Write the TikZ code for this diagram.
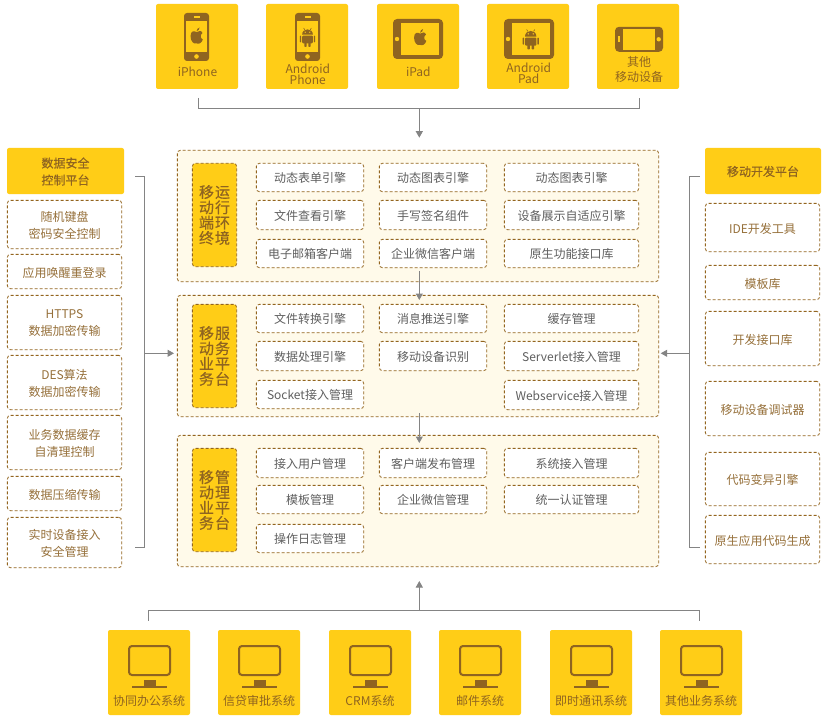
\documentclass[tikz,border=0pt]{standalone}
\usepackage{fontspec}
\setmainfont{Noto Sans CJK SC}
\newfontfamily\medfont[FakeBold=0.35]{Noto Sans CJK SC}
\usetikzlibrary{arrows.meta}
\definecolor{gold}{HTML}{FFCD17}
\definecolor{brownc}{HTML}{8F6420}
\definecolor{dashc}{HTML}{93651F}
\definecolor{panelc}{HTML}{FFFAEA}
\definecolor{linec}{HTML}{848484}
\definecolor{txtgray}{HTML}{5F5F5F}
\definecolor{txtbrown}{HTML}{96703A}
\tikzset{
 x=1pt,y=-1pt,
 fillbox/.style={fill=gold,rounded corners=2pt,draw=none},
 dbox/.style={draw=dashc,densely dashed,line width=.8pt,rounded corners=3pt,fill=white},
 panelbox/.style={draw=dashc,densely dashed,line width=.8pt,rounded corners=3pt,fill=panelc},
 sidebox/.style={draw=dashc,densely dashed,line width=.8pt,rounded corners=3pt,fill=gold},
 conn/.style={draw=linec,line width=1pt},
 arr/.style={conn,-{Triangle[length=6.5pt,width=7pt,fill=linec]}},
 lab/.style={font=\fontsize{12}{13}\selectfont,text=brownc,align=center,inner sep=0pt},
 ilab/.style={font=\fontsize{12}{14}\selectfont,text=txtgray,align=center,inner sep=0pt,yshift=-.7pt},
 slab/.style={font=\fontsize{12}{17}\selectfont,text=txtbrown,align=center,inner sep=0pt,yshift=-1pt},
 hlab/.style={font=\medfont\fontsize{12}{17}\selectfont,text=brownc,align=center,inner sep=0pt,yshift=-.5pt},
 vlab/.style={font=\medfont\fontsize{15}{15.3}\selectfont,text=brownc,align=center,inner sep=0pt},
}
% filled box: name, x0, y0, x1, y1, style, label style, text
\newcommand{\bx}[8]{\node[#6,outer sep=0pt,minimum width=#4pt-#2pt,minimum height=#5pt-#3pt,anchor=center,inner sep=0pt] (#1) at ({(#2+#4)/2},{(#3+#5)/2}) {};
 \node[#7] at (#1.center) {#8};}
% dashed box: stroke kept inside the given extent
\newcommand{\dx}[8]{\node[#6,outer sep=0pt,minimum width=#4pt-#2pt-.7pt,minimum height=#5pt-#3pt-.7pt,anchor=center,inner sep=0pt] (#1) at ({(#2+#4)/2},{(#3+#5)/2}) {};
 \node[#7] at (#1.center) {#8};}
% icons, centred at (#1,#2)
\newcommand{\appleic}[3]{\begin{scope}[shift={(#1,#2)},scale=#3]
 \fill[brownc] (0,-4.6) .. controls (2,-6.6) and (6.5,-6.6) .. (7,-3.4) .. controls (4,-1.5) and (4.5,3) .. (7.4,4) .. controls (6,8) and (3.5,10) .. (0,8.7) .. controls (-3.5,10) and (-7,6) .. (-7,0) .. controls (-7,-6) and (-2.5,-6.5) .. (0,-4.6) -- cycle;
 \fill[brownc] (0,-5.6) .. controls (0,-8) and (2,-9.5) .. (3.6,-10) .. controls (3.8,-8) and (2,-6) .. (0,-5.6) -- cycle;
\end{scope}}
\newcommand{\droidic}[3]{\begin{scope}[shift={(#1,#2)},scale=#3]
 \fill[brownc] (-6,-2.5) .. controls (-6,-6.5) and (-3,-8.5) .. (0,-8.5) .. controls (3,-8.5) and (6,-6.5) .. (6,-2.5) -- cycle;
 \draw[brownc,line width=.6pt] (-3,-8) -- (-4.3,-10) (3,-8) -- (4.3,-10);
 \fill[gold] (-2.6,-5.4) circle (.8) (2.6,-5.4) circle (.8);
 \fill[brownc,rounded corners=1pt] (-6,-1.5) rectangle (6,7);
 \fill[brownc,rounded corners=.7pt] (-8.6,-1.5) rectangle (-7,6) (7,-1.5) rectangle (8.6,6);
 \fill[brownc,rounded corners=.7pt] (-3.6,6) rectangle (-1,11) (1,6) rectangle (3.6,11);
\end{scope}}
\newcommand{\phoneic}[2]{\begin{scope}[shift={(#1,#2)}]
 \fill[brownc,rounded corners=3pt] (-12.5,-24) rectangle (12.5,24);
 \fill[gold] (-10.5,-16) rectangle (10.5,15);
 \fill[gold] (-3,-20.5) rectangle (3,-19.2);
 \fill[gold] (0,19.5) circle (2.3);
\end{scope}}
\newcommand{\tabletic}[2]{\begin{scope}[shift={(#1,#2)}]
 \fill[brownc,rounded corners=4pt] (-25,-20) rectangle (25,20);
 \fill[gold] (-17,-16) rectangle (20.5,16);
 \fill[gold] (-21,0) circle (2.2);
\end{scope}}
\newcommand{\monic}[2]{\begin{scope}[shift={(#1,#2)}]
 \draw[brownc,line width=2pt,rounded corners=3pt] (-20.5,-22) rectangle (20.5,7);
 \fill[brownc] (-6,11.5) rectangle (6,18);
 \fill[brownc] (-17.5,18) rectangle (17.5,20);
\end{scope}}
\begin{document}
\begin{tikzpicture}
\useasboundingbox (0,0) rectangle (826,722);
\fill[white] (0,0) rectangle (826,722);
% top devices
\bx{t1}{156}{4}{238}{89}{fillbox}{lab}{}
\bx{t2}{266}{4}{348}{89}{fillbox}{lab}{}
\bx{t3}{377}{4}{459}{89}{fillbox}{lab}{}
\bx{t4}{487}{4}{569}{89}{fillbox}{lab}{}
\bx{t5}{597}{4}{679}{89}{fillbox}{lab}{}
\phoneic{196.5}{37}\appleic{196.5}{36}{.85}
\phoneic{307.5}{37}\droidic{307.5}{37}{.9}
\tabletic{418}{39}\appleic{420}{37.5}{.85}
\tabletic{529}{39}\droidic{530.7}{39}{.95}
\begin{scope}[shift={(639,39.3)}]
 \fill[brownc,rounded corners=4pt] (-24,-12.5) rectangle (24,12.5);
 \fill[gold] (-16.3,-10.3) rectangle (15.7,10.7);
 \fill[gold] (19.7,0) circle (2.2);
 \fill[gold] (-21,-3.3) rectangle (-19.5,3);
\end{scope}
\node[lab] at (197.5,71.7) {iPhone};
\node[lab,font=\fontsize{12}{10.8}\selectfont] at (307.8,74) {Android\\Phone};
\node[lab] at (418.3,71.7) {iPad};
\node[lab,font=\fontsize{12}{11.4}\selectfont] at (528.7,73.5) {Android\\Pad};
\node[lab,font=\fontsize{12}{14.5}\selectfont] at (639,69.5) {其他\\移动设备};
% top connector
\coordinate (ttl) at (198.3,98); \coordinate (ttr) at (639.3,98);
\coordinate (tj) at (419.3,108.3); \coordinate (ta) at (419.3,137.7);
\draw[conn] (ttl) |- (tj) -| (ttr);
\draw[arr] (tj) -- (ta);
% panels
\dx{p1}{177}{150}{659}{282}{panelbox}{ilab}{}
\dx{p2}{177}{295}{659}{417}{panelbox}{ilab}{}
\dx{p3}{177}{435}{659}{567}{panelbox}{ilab}{}
\dx{v1}{192}{163}{237}{267}{sidebox}{vlab}{移\hspace{1pt}运\\动\hspace{1pt}行\\端\hspace{1pt}环\\终\hspace{1pt}境}
\dx{v2}{192}{304}{237}{408}{sidebox}{vlab}{移\hspace{1pt}服\\动\hspace{1pt}务\\业\hspace{1pt}平\\务\hspace{1pt}台}
\dx{v3}{192}{448}{237}{552}{sidebox}{vlab}{移\hspace{1pt}管\\动\hspace{1pt}理\\业\hspace{1pt}平\\务\hspace{1pt}台}
% panel 1
\dx{a1}{256}{163}{364}{192}{dbox}{ilab}{动态表单引擎}
\dx{a2}{379}{163}{487}{192}{dbox}{ilab}{动态图表引擎}
\dx{a3}{504}{163}{639}{192}{dbox}{ilab}{动态图表引擎}
\dx{a4}{256}{200}{364}{230}{dbox}{ilab}{文件查看引擎}
\dx{a5}{379}{200}{487}{230}{dbox}{ilab}{手写签名组件}
\dx{a6}{504}{200}{639}{230}{dbox}{ilab}{设备展示自适应引擎}
\dx{a7}{256}{239}{364}{268}{dbox}{ilab}{电子邮箱客户端}
\dx{a8}{379}{239}{487}{268}{dbox}{ilab}{企业微信客户端}
\dx{a9}{504}{239}{639}{268}{dbox}{ilab}{原生功能接口库}
% panel 2
\dx{b1}{256}{304}{364}{333}{dbox}{ilab}{文件转换引擎}
\dx{b2}{379}{304}{487}{333}{dbox}{ilab}{消息推送引擎}
\dx{b3}{504}{304}{639}{333}{dbox}{ilab}{缓存管理}
\dx{b4}{256}{341}{364}{371}{dbox}{ilab}{数据处理引擎}
\dx{b5}{379}{341}{487}{371}{dbox}{ilab}{移动设备识别}
\dx{b6}{504}{341}{639}{371}{dbox}{ilab}{Serverlet接入管理}
\dx{b7}{256}{380}{364}{409}{dbox}{ilab}{Socket接入管理}
\dx{b8}{504}{380}{639}{410}{dbox}{ilab}{Webservice接入管理}
% panel 3
\dx{c1}{256}{448}{364}{478}{dbox}{ilab}{接入用户管理}
\dx{c2}{379}{448}{487}{478}{dbox}{ilab}{客户端发布管理}
\dx{c3}{504}{448}{639}{478}{dbox}{ilab}{系统接入管理}
\dx{c4}{256}{485}{364}{514}{dbox}{ilab}{模板管理}
\dx{c5}{379}{485}{487}{514}{dbox}{ilab}{企业微信管理}
\dx{c6}{504}{485}{639}{514}{dbox}{ilab}{统一认证管理}
\dx{c7}{256}{524}{364}{553}{dbox}{ilab}{操作日志管理}
% inter-panel arrows
\coordinate (m1) at (419.3,271); \coordinate (m2) at (419.3,300);
\coordinate (m3) at (419.3,413); \coordinate (m4) at (419.3,443);
\draw[arr] (m1) -- (m2);
\draw[arr] (m3) -- (m4);
% left column
\bx{lh}{7}{148}{124}{194}{fillbox}{hlab}{数据安全\\控制平台}
\dx{l1}{7}{200}{122}{249}{dbox}{slab}{随机键盘\\密码安全控制}
\dx{l2}{7}{254}{122}{289}{dbox}{slab}{应用唤醒重登录}
\dx{l3}{7}{295}{122}{350}{dbox}{slab}{HTTPS\\数据加密传输}
\dx{l4}{7}{355}{122}{410}{dbox}{slab}{DES算法\\数据加密传输}
\dx{l5}{7}{415}{122}{470}{dbox}{slab}{业务数据缓存\\自清理控制}
\dx{l6}{7}{476}{122}{511}{dbox}{slab}{数据压缩传输}
\dx{l7}{7}{517}{122}{568}{dbox}{slab}{实时设备接入\\安全管理}
\coordinate (lt) at (135,176); \coordinate (lb) at (134.5,547.3);
\coordinate (lc) at (144.5,176); \coordinate (ld) at (144.5,547.3);
\coordinate (lj) at (144.5,353.3); \coordinate (la) at (174,353.3);
\draw[conn] (lt) -- (lc) -- (ld) -- (lb);
\draw[arr] (lj) -- (la);
% right column
\bx{rh}{705}{148}{821}{194}{fillbox}{hlab}{移动开发平台}
\dx{r1}{705}{203}{820}{252}{dbox}{slab}{IDE开发工具}
\dx{r2}{705}{265}{820}{300}{dbox}{slab}{模板库}
\dx{r3}{705}{311}{820}{366}{dbox}{slab}{开发接口库}
\dx{r4}{705}{381}{820}{436}{dbox}{slab}{移动设备调试器}
\dx{r5}{705}{452}{820}{506}{dbox}{slab}{代码变异引擎}
\dx{r6}{705}{515}{820}{564}{dbox}{slab}{原生应用代码生成}
\coordinate (rt) at (699.5,176); \coordinate (rb) at (699.5,547.3);
\coordinate (rc) at (689.5,176); \coordinate (rd) at (689.5,547.3);
\coordinate (rj) at (689.5,353.3); \coordinate (ra) at (660.7,353.3);
\draw[conn] (rt) -- (rc) -- (rd) -- (rb);
\draw[arr] (rj) -- (ra);
% bottom connector
\coordinate (bl) at (148.5,620.7); \coordinate (br) at (699.5,620.7);
\coordinate (bj) at (419.3,610.3); \coordinate (ba) at (419.3,581);
\draw[conn] (bl) |- (bj) -| (br);
\draw[arr] (bj) -- (ba);
% bottom systems
\bx{s1}{108}{630}{190}{715}{fillbox}{lab}{}
\bx{s2}{218}{630}{300}{715}{fillbox}{lab}{}
\bx{s3}{329}{630}{411}{715}{fillbox}{lab}{}
\bx{s4}{439}{630}{521}{715}{fillbox}{lab}{}
\bx{s5}{550}{630}{632}{715}{fillbox}{lab}{}
\bx{s6}{660}{630}{742}{715}{fillbox}{lab}{}
\monic{149.5}{668}\monic{259.5}{668}\monic{370.5}{668}\monic{480.5}{668}\monic{591.5}{668}\monic{701.5}{668}
\node[lab] at (149,701) {协同办公系统};
\node[lab] at (259,701) {信贷审批系统};
\node[lab] at (370,701) {CRM系统};
\node[lab] at (480,701) {邮件系统};
\node[lab] at (591,701) {即时通讯系统};
\node[lab] at (701,701) {其他业务系统};
\end{tikzpicture}
\end{document}
